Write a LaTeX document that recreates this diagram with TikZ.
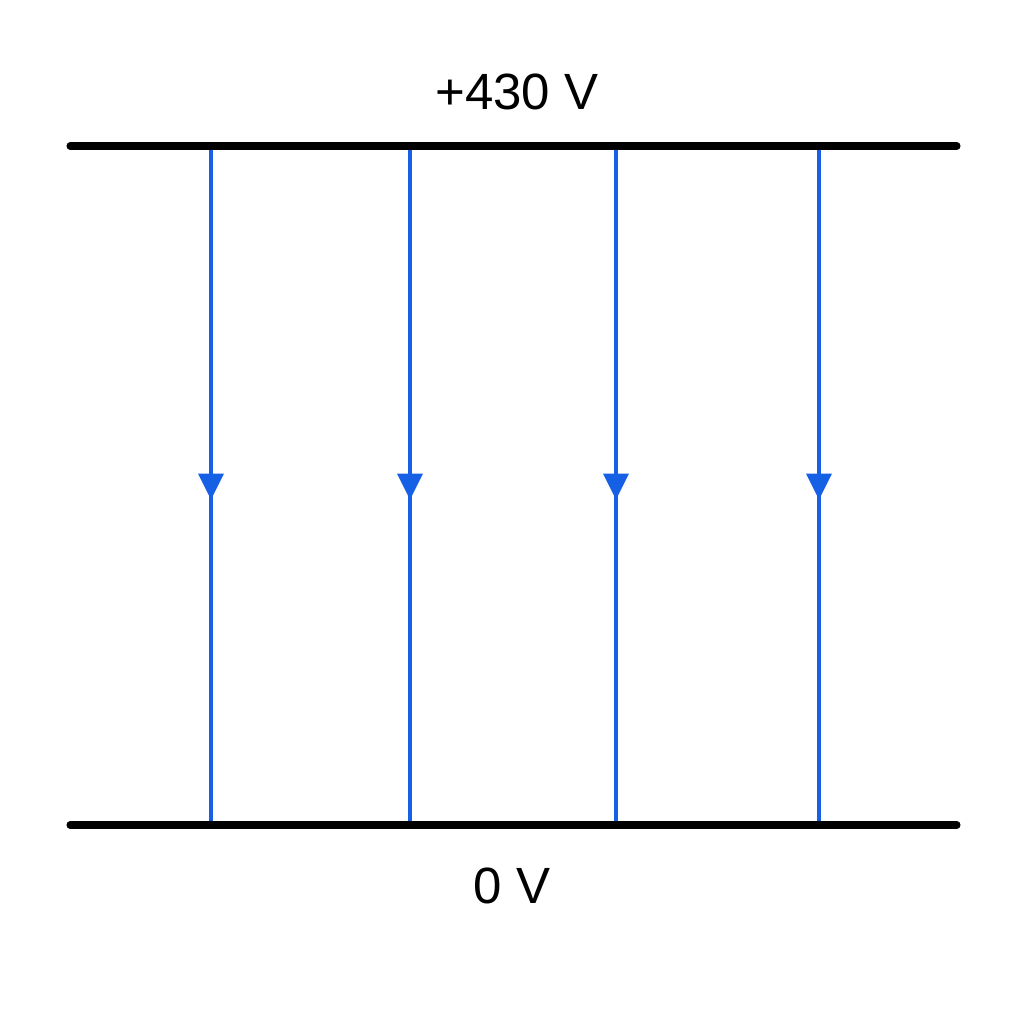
\documentclass[tikz,border=0pt]{standalone}
\usepackage{fontspec}
\setmainfont{Liberation Sans}
\usetikzlibrary{positioning}
\usetikzlibrary{arrows.meta,decorations.markings}
\definecolor{fieldblue}{RGB}{22,96,230}
\tikzset{
  plate/.style={line width=2pt,line cap=round,black},
  fieldline/.style={line width=1.05pt,fieldblue,postaction={decorate},
    decoration={markings,mark=at position 0.521 with {\arrow{Triangle[width=7.1pt,length=7.4pt]}}}},
  potential/.style={font=\fontsize{14.5}{17}\selectfont}
}
\begin{document}
\begin{tikzpicture}
        % Fix the page size
        \useasboundingbox (0,0) rectangle (10.24,10.24);
        % Draw the two plates
        \coordinate (topL) at (0.70,8.78);
        \coordinate (topR) at (9.57,8.78);
        \coordinate (botL) at (0.70,1.99);
        \coordinate (botR) at (9.57,1.99);
        % Field lines from top plate to bottom plate
        \foreach \i/\x in {1/2.11,2/4.10,3/6.16,4/8.19} {
          \coordinate (t\i) at (\x,8.78);
          \coordinate (b\i) at (\x,1.99);
          \draw [fieldline] (t\i) -- (b\i);
        }
        \draw [plate] (topL) -- (topR);
        \draw [plate] (botL) -- (botR);
        % Labels
        \node [potential] (vtop) at (5.17,9.32) {+430 V};
        \node [potential] (vbot) at (5.12,1.38) {0 V};
      \end{tikzpicture}
\end{document}
